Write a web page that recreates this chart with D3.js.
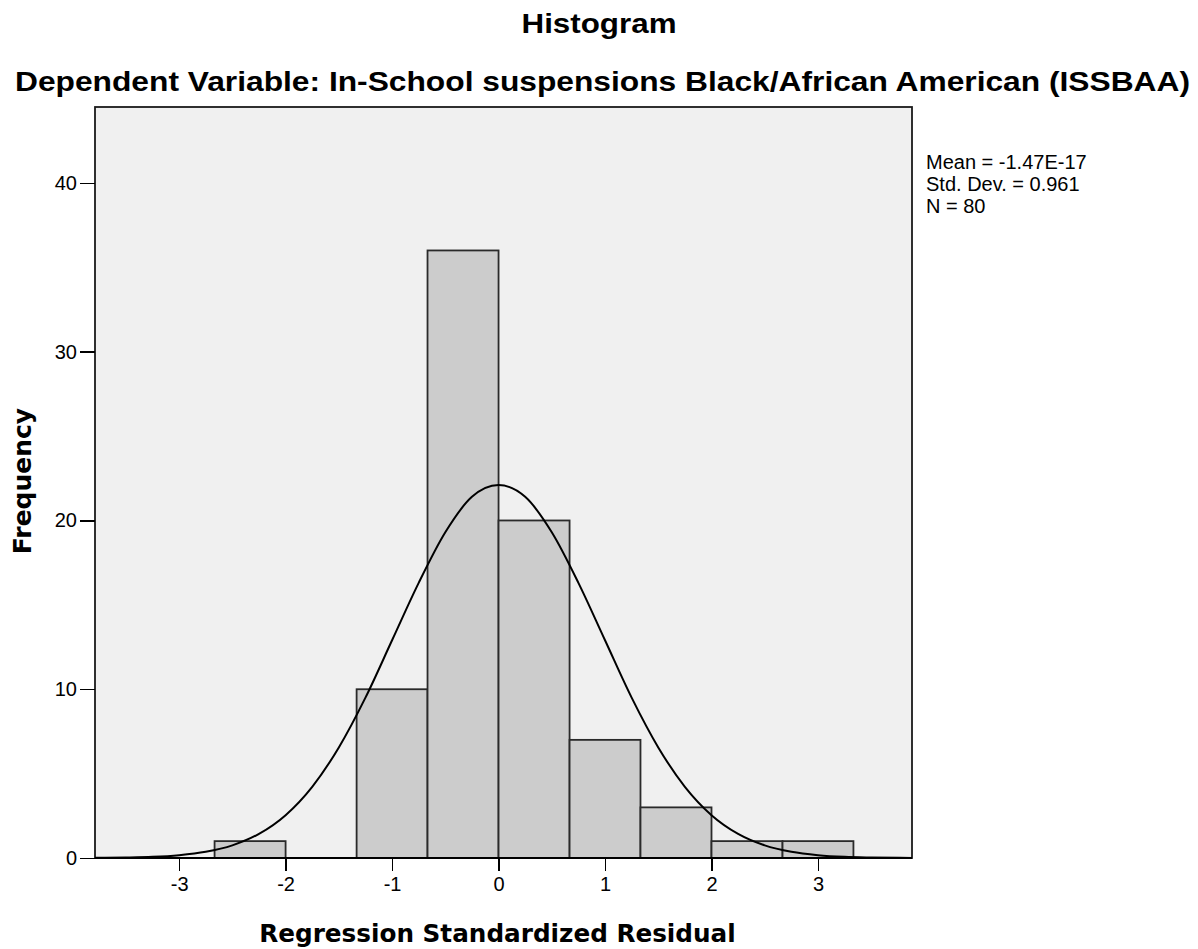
<!DOCTYPE html>
<html>
<head>
<meta charset="utf-8">
<script src="https://cdn.jsdelivr.net/npm/d3@7"></script>
<style>
  body { margin: 0; background: #fff; }
  .tick text { font-family: "Liberation Sans", Arial, sans-serif; font-size: 20px; fill: #000; }
  .axis path, .axis line { stroke: #000; stroke-width: 1.5px; shape-rendering: crispEdges; }
</style>
</head>
<body>
<div class="hist_container"></div>
<script>
// histogram bins (bin width 2/3)
const binStart = [-2.667, -2, -1.333, -0.667, 0, 0.667, 1.333, 2, 2.667]
const binEnd   = [-2, -1.333, -0.667, 0, 0.667, 1.333, 2, 2.667, 3.333]
const binCount = [1, 0, 10, 36, 20, 7, 3, 1, 1]

// normal curve
const curveX = [-3.79, -3.5, -3.25, -3, -2.75, -2.5, -2.25, -2, -1.75, -1.5, -1.25, -1, -0.75, -0.5, -0.25,
                0, 0.25, 0.5, 0.75, 1, 1.25, 1.5, 1.75, 2, 2.25, 2.5, 2.75, 3, 3.25, 3.5, 3.883]
const curveY = [0.01, 0.03, 0.07, 0.17, 0.37, 0.75, 1.43, 2.54, 4.22, 6.55, 9.5, 12.9, 16.3, 19.3, 21.4,
                22.1, 21.4, 19.3, 16.3, 12.9, 9.5, 6.55, 4.22, 2.54, 1.43, 0.75, 0.37, 0.17, 0.07, 0.03, 0.005]

// tick labels
const xTicks = [-3, -2, -1, 0, 1, 2, 3]
const yTicks = [0, 10, 20, 30, 40]

const statLines = ['Mean = -1.47E-17', 'Std. Dev. = 0.961', 'N = 80']

const svg_width = 1198
const svg_height = 949
const plot = {left: 95, right: 912, top: 107, bottom: 858}

const svg = d3.select('.hist_container').append('svg')
    .attr('width', svg_width).attr('height', svg_height)

const xScale = d3.scaleLinear().domain([-3.79, 3.883]).range([plot.left, plot.right])
const yScale = d3.scaleLinear().domain([0, 44.5]).range([plot.bottom, plot.top])

// plot background
svg.append('rect')
    .attr('x', plot.left).attr('y', plot.top)
    .attr('width', plot.right - plot.left).attr('height', plot.bottom - plot.top)
    .style('fill', '#f0f0f0')

// bars
const bars = binCount.map((c, i) => ({x0: binStart[i], x1: binEnd[i], n: c}))
svg.selectAll('.bar').data(bars.filter(d => d.n > 0))
    .enter().append('rect')
        .attr('class', 'bar')
        .attr('x', d => xScale(d.x0))
        .attr('y', d => yScale(d.n))
        .attr('width', d => xScale(d.x1) - xScale(d.x0))
        .attr('height', d => yScale(0) - yScale(d.n))
        .style('fill', '#cccccc')
        .style('stroke', '#2a2a2a')
        .style('stroke-width', 1.8)

// normal curve
const line = d3.line().x(d => xScale(d[0])).y(d => yScale(d[1])).curve(d3.curveMonotoneX)
svg.append('path')
    .datum(curveX.map((x, i) => [x, curveY[i]]))
    .attr('d', line)
    .style('fill', 'none').style('stroke', '#000').style('stroke-width', 2)

// frame
svg.append('rect')
    .attr('x', plot.left).attr('y', plot.top)
    .attr('width', plot.right - plot.left).attr('height', plot.bottom - plot.top)
    .style('fill', 'none').style('stroke', '#1a1a1a').style('stroke-width', 1.8)

// axes (hyphen minus like the original)
const xAxis = d3.axisBottom(xScale).tickValues(xTicks).tickFormat(d => String(d))
    .tickSize(13).tickSizeOuter(0).tickPadding(6)
svg.append('g').attr('class', 'x axis')
    .attr('transform', `translate(0,${plot.bottom})`).call(xAxis)
    .select('.domain').remove()

const yAxis = d3.axisLeft(yScale).tickValues(yTicks).tickSize(15).tickSizeOuter(0).tickPadding(3)
svg.append('g').attr('class', 'y axis')
    .attr('transform', `translate(${plot.left},0)`).call(yAxis)
    .select('.domain').remove()

svg.append('line')
    .attr('x1', plot.left).attr('x2', plot.right)
    .attr('y1', plot.bottom).attr('y2', plot.bottom)
    .style('stroke', '#000').style('stroke-width', 2)

// titles (the original text is a bit wide, so stretch to its length)
svg.append('text').text('Histogram')
    .attr('x', 599).attr('y', 33).attr('text-anchor', 'middle')
    .attr('textLength', 155).attr('lengthAdjust', 'spacingAndGlyphs')
    .style('font-family', '"Liberation Sans", Arial, sans-serif')
    .style('font-weight', 'bold').style('font-size', '28px')

svg.append('text').text('Dependent Variable: In-School suspensions Black/African American (ISSBAA)')
    .attr('x', 602.5).attr('y', 91).attr('text-anchor', 'middle')
    .attr('textLength', 1175).attr('lengthAdjust', 'spacingAndGlyphs')
    .style('font-family', '"Liberation Sans", Arial, sans-serif')
    .style('font-weight', 'bold').style('font-size', '28px')

// axis titles
svg.append('text').text('Regression Standardized Residual')
    .attr('x', 497.5).attr('y', 942).attr('text-anchor', 'middle')
    .style('font-family', '"DejaVu Sans", Verdana, sans-serif')
    .style('font-weight', 'bold').style('font-size', '24.7px')

svg.append('text').text('Frequency')
    .attr('transform', `translate(31,481) rotate(-90)`).attr('text-anchor', 'middle')
    .style('font-family', '"DejaVu Sans", Verdana, sans-serif')
    .style('font-weight', 'bold').style('font-size', '25px')

// stats box
svg.append('g').selectAll('text').data(statLines)
    .enter().append('text')
        .text(d => d)
        .attr('x', 926).attr('y', (d, i) => 169 + i * 22)
        .style('font-family', '"Liberation Sans", Arial, sans-serif')
        .style('font-size', '20px')
</script>
</body>
</html>
